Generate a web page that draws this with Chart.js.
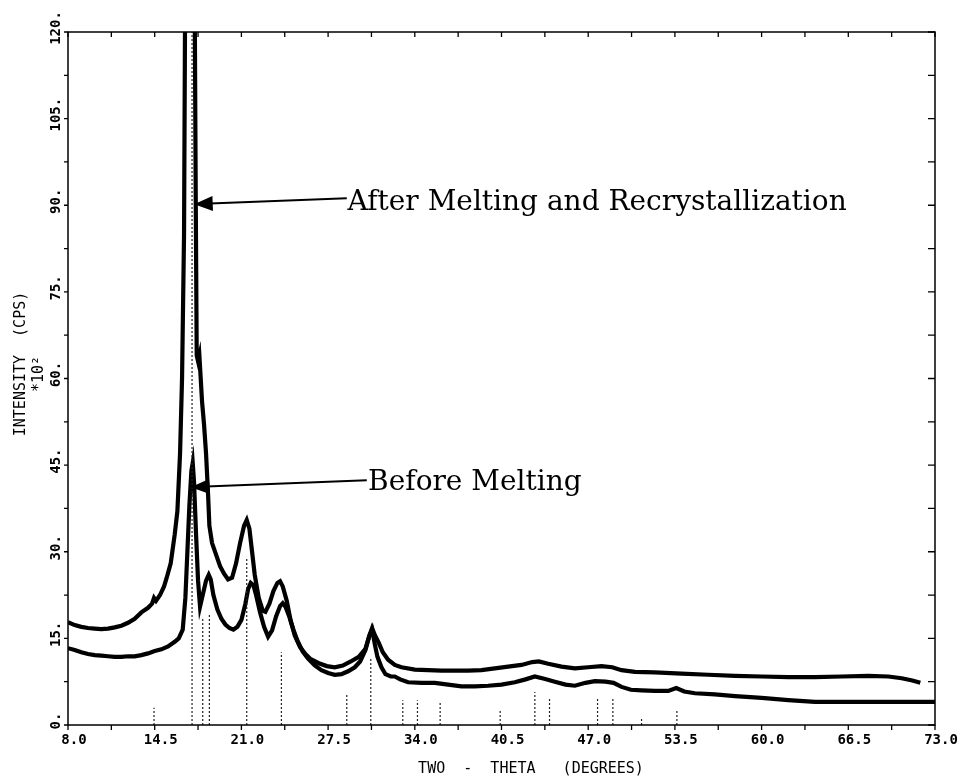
<!DOCTYPE html>
<html lang="en">
<head>
    <meta charset="UTF-8">
    <title>XRD Pattern</title>
    <script src="https://cdn.jsdelivr.net/npm/chart.js"></script>
    <style>
        body { margin: 0; background: #fff; }
        #xrdChart { display: block; }
    </style>
</head>
<body>
    <canvas id="xrdChart" width="959" height="780"></canvas>

    <script>
        // after melting and recrystallization (upper trace)
        const afterX = [8.0, 8.5, 9.0, 9.5, 10.0, 10.5, 11.0, 11.5, 12.0, 12.5, 13.0, 13.5, 14.0, 14.3, 14.45, 14.6, 14.9, 15.2, 15.4, 15.7, 16.0, 16.2, 16.4, 16.55, 16.7, 16.78,
            17.5, 17.58, 17.65, 17.75, 17.85, 17.95, 18.05, 18.2, 18.35, 18.5, 18.6, 18.8, 19.1, 19.4, 19.7, 20.0, 20.3, 20.6, 20.9, 21.2, 21.4, 21.6, 21.8, 22.0, 22.3, 22.6, 22.8,
            23.1, 23.4, 23.7, 23.9, 24.1, 24.4, 24.7, 25.0, 25.4, 25.8, 26.2, 26.8, 27.4, 28.0, 28.6, 29.2, 29.8, 30.3, 30.6, 30.8, 31.0, 31.3, 31.6, 32.0, 32.5, 33.0,
            34.0, 35.0, 36.0, 37.0, 38.0, 39.0, 40.0, 41.0, 42.0, 42.8, 43.3, 44.0, 45.0, 46.0, 47.0, 48.0, 48.8, 49.5, 50.5, 52.0, 54.0, 56.0, 58.0, 60.0, 62.0, 64.0,
            66.0, 68.0, 69.5, 70.5, 71.3, 71.9];
        const afterY = [17.8, 17.3, 17.0, 16.8, 16.7, 16.6, 16.7, 16.9, 17.2, 17.7, 18.4, 19.5, 20.3, 21.0, 22.0, 21.5, 22.5, 24.0, 25.5, 28.0, 33.0, 37.0, 47.0, 60.0, 85.0, 125.0,
            125.0, 90.0, 64.0, 63.0, 64.0, 60.0, 56.0, 52.0, 47.0, 40.0, 34.5, 31.5, 29.5, 27.5, 26.2, 25.2, 25.5, 28.0, 31.5, 34.5, 35.5, 34.0, 30.0, 26.0, 22.0, 19.8, 19.6,
            21.0, 23.2, 24.6, 24.9, 24.0, 21.5, 18.0, 15.5, 13.5, 12.3, 11.4, 10.7, 10.2, 10.0, 10.3, 11.0, 11.8, 13.2, 15.5, 16.8, 15.6, 14.2, 12.6, 11.3, 10.4, 10.0,
            9.6, 9.5, 9.4, 9.4, 9.4, 9.5, 9.8, 10.1, 10.4, 10.9, 11.0, 10.6, 10.1, 9.8, 10.0, 10.2, 10.0, 9.5, 9.2, 9.1, 8.9, 8.7, 8.5, 8.4, 8.3, 8.3,
            8.4, 8.5, 8.4, 8.1, 7.7, 7.3];

        // before melting (lower trace)
        const beforeX = [8.0, 8.5, 9.0, 9.5, 10.0, 10.5, 11.0, 11.5, 12.0, 12.5, 13.0, 13.5, 14.0, 14.5, 15.0, 15.5, 16.0, 16.3, 16.6, 16.8, 16.95, 17.1, 17.25, 17.35, 17.45,
            17.6, 17.75, 17.9, 18.1, 18.35, 18.55, 18.7, 18.9, 19.2, 19.5, 19.8, 20.1, 20.4, 20.7, 21.0, 21.3, 21.5, 21.7, 21.9, 22.1, 22.4, 22.7, 23.0, 23.3, 23.6, 23.9,
            24.1, 24.3, 24.6, 24.9, 25.2, 25.6, 26.0, 26.5, 27.0, 27.5, 28.0, 28.5, 29.0, 29.5, 29.9, 30.3, 30.6, 30.8, 31.0, 31.2, 31.5, 31.8, 32.2, 32.5, 32.9, 33.5,
            34.5, 35.5, 36.5, 37.5, 38.5, 39.5, 40.5, 41.5, 42.3, 43.0, 43.7, 44.5, 45.3, 46.0, 46.8, 47.5, 48.3, 48.9, 49.5, 50.2, 51.0, 52.0, 53.0, 53.6, 54.2, 55.0,
            56.5, 58.0, 60.0, 62.0, 64.0, 66.0, 68.0, 70.0, 72.0, 73.0];
        const beforeY = [13.3, 13.0, 12.6, 12.3, 12.1, 12.0, 11.9, 11.8, 11.8, 11.9, 11.9, 12.1, 12.4, 12.8, 13.1, 13.6, 14.4, 15.0, 16.5, 22.0, 30.0, 38.0, 44.0, 45.4, 42.0,
            33.0, 25.0, 20.5, 22.5, 25.0, 26.0, 25.2, 22.5, 20.0, 18.4, 17.4, 16.8, 16.5, 17.0, 18.2, 21.0, 23.5, 24.6, 24.2, 22.5, 19.5, 17.0, 15.3, 16.4, 18.8, 20.6,
            21.1, 20.5, 18.7, 16.5, 14.6, 12.7, 11.5, 10.3, 9.5, 9.0, 8.7, 8.8, 9.3, 10.0, 11.0, 13.0, 15.5, 16.5, 14.0, 11.8, 10.0, 8.8, 8.4, 8.4, 7.9, 7.4,
            7.3, 7.3, 7.0, 6.7, 6.7, 6.8, 7.0, 7.4, 7.9, 8.4, 8.0, 7.5, 7.0, 6.8, 7.3, 7.6, 7.5, 7.3, 6.6, 6.1, 6.0, 5.9, 5.9, 6.4, 5.8, 5.5,
            5.3, 5.0, 4.7, 4.3, 4.0, 4.0, 4.0, 4.0, 4.0, 4.0];

        // reference pattern lines (dotted sticks)
        const stickX = [14.45, 17.3, 18.1, 18.6, 21.4, 24.0, 28.9, 30.7, 33.1, 34.2, 35.9, 40.4, 43.0, 44.1, 47.7, 48.85, 51.0, 53.65];
        const stickH = [3.0, 125.0, 18.7, 19.4, 29.0, 12.6, 5.3, 11.5, 4.3, 4.3, 3.8, 2.6, 5.7, 4.7, 4.8, 4.8, 1.2, 2.6];

        const xTickValues = [8.0, 14.5, 21.0, 27.5, 34.0, 40.5, 47.0, 53.5, 60.0, 66.5, 73.0];
        const xTickLabels = ['8.0', '14.5', '21.0', '27.5', '34.0', '40.5', '47.0', '53.5', '60.0', '66.5', '73.0'];
        const yTickValues = [0, 15, 30, 45, 60, 75, 90, 105, 120];
        const yTickLabels = ['0.', '15.', '30.', '45.', '60.', '75.', '90.', '105.', '120.'];

        // annotation anchors, in data units
        const notes = [
            { text: 'After Melting and Recrystallization', tip: [17.65, 90.2], lineEnd: [28.9, 91.2], textAt: [28.95, 89.2] },
            { text: 'Before Melting', tip: [17.4, 41.2], lineEnd: [30.4, 42.4], textAt: [30.5, 40.7] }
        ];

        const monoFont = '"DejaVu Sans Mono", "Liberation Mono", monospace';

        const framePlugin = {
            id: 'frame',
            afterDatasetsDraw(chart) {
                const ctx = chart.ctx;
                const xs = chart.scales.x, ys = chart.scales.y;
                const a = chart.chartArea;
                ctx.save();
                ctx.strokeStyle = '#000';
                ctx.fillStyle = '#000';

                // border
                ctx.lineWidth = 1.5;
                ctx.strokeRect(a.left, a.top, a.right - a.left, a.bottom - a.top);

                // tick marks every 3.25 deg and 7.5 counts
                ctx.lineWidth = 1.3;
                ctx.beginPath();
                for (let v = 8; v <= 73.001; v += 3.25) {
                    const px = xs.getPixelForValue(v);
                    ctx.moveTo(px, a.bottom); ctx.lineTo(px, a.bottom + 5);
                    ctx.moveTo(px, a.top); ctx.lineTo(px, a.top + 5);
                }
                for (let v = 0; v <= 120.001; v += 7.5) {
                    const py = ys.getPixelForValue(v);
                    ctx.moveTo(a.left - 4, py); ctx.lineTo(a.left, py);
                    ctx.moveTo(a.right - 7, py); ctx.lineTo(a.right, py);
                }
                ctx.stroke();

                // x tick labels
                ctx.font = 'bold 14px ' + monoFont;
                ctx.textAlign = 'center';
                ctx.textBaseline = 'top';
                xTickValues.forEach((v, i) => {
                    ctx.fillText(xTickLabels[i], xs.getPixelForValue(v) + 6, a.bottom + 8);
                });

                // y tick labels, rotated
                ctx.textBaseline = 'alphabetic';
                yTickValues.forEach((v, i) => {
                    ctx.save();
                    ctx.translate(a.left - 8, ys.getPixelForValue(v) - 4);
                    ctx.rotate(-Math.PI / 2);
                    ctx.fillText(yTickLabels[i], 0, 0);
                    ctx.restore();
                });

                // axis titles
                ctx.font = '15px ' + monoFont;
                ctx.textAlign = 'center';
                ctx.fillText('TWO  -  THETA   (DEGREES)', 531, 773);

                ctx.save();
                ctx.translate(25, 364);
                ctx.rotate(-Math.PI / 2);
                ctx.fillText('INTENSITY  (CPS)', 0, 0);
                ctx.restore();

                ctx.save();
                ctx.translate(43, 374);
                ctx.rotate(-Math.PI / 2);
                ctx.fillText('*10\u00B2', 0, 0);
                ctx.restore();

                // annotations with arrows
                ctx.font = '28px "DejaVu Serif", serif';
                ctx.textAlign = 'left';
                notes.forEach(n => {
                    const tx = xs.getPixelForValue(n.tip[0]), ty = ys.getPixelForValue(n.tip[1]);
                    const ex = xs.getPixelForValue(n.lineEnd[0]), ey = ys.getPixelForValue(n.lineEnd[1]);
                    const ang = Math.atan2(ey - ty, ex - tx);
                    ctx.lineWidth = 2;
                    ctx.beginPath();
                    ctx.moveTo(tx, ty);
                    ctx.lineTo(ex, ey);
                    ctx.stroke();
                    // arrow head
                    const len = 15, half = 6;
                    const bx = tx + Math.cos(ang) * len, by = ty + Math.sin(ang) * len;
                    ctx.beginPath();
                    ctx.moveTo(tx, ty);
                    ctx.lineTo(bx - Math.sin(ang) * half, by + Math.cos(ang) * half);
                    ctx.lineTo(bx + Math.sin(ang) * half, by - Math.cos(ang) * half);
                    ctx.closePath();
                    ctx.fill();
                    ctx.stroke();
                    ctx.fillText(n.text, xs.getPixelForValue(n.textAt[0]), ys.getPixelForValue(n.textAt[1]));
                });
                ctx.restore();
            }
        };

        const toPoints = (xArr, yArr) => xArr.map((x, i) => ({ x: x, y: yArr[i] }));
        const stickPoints = stickX.flatMap((x, i) => [{ x: x, y: 0 }, { x: x, y: stickH[i] }, { x: x, y: null }]);

        const config = {
            type: 'line',
            data: {
                datasets: [
                    {
                        label: 'Reference lines',
                        data: stickPoints,
                        borderColor: '#222',
                        borderWidth: 1.2,
                        borderDash: [2, 2],
                        pointRadius: 0,
                        spanGaps: false
                    },
                    {
                        label: 'After Melting and Recrystallization',
                        data: toPoints(afterX, afterY),
                        borderColor: '#000',
                        borderWidth: 4.2,
                        pointRadius: 0,
                        tension: 0
                    },
                    {
                        label: 'Before Melting',
                        data: toPoints(beforeX, beforeY),
                        borderColor: '#000',
                        borderWidth: 4.2,
                        pointRadius: 0,
                        tension: 0
                    }
                ]
            },
            options: {
                responsive: false,
                animation: false,
                devicePixelRatio: 1,
                layout: { padding: { left: 68, top: 32, right: 24, bottom: 55 } },
                plugins: {
                    legend: { display: false },
                    tooltip: { enabled: false }
                },
                scales: {
                    x: { type: 'linear', min: 8, max: 73, display: false },
                    y: { type: 'linear', min: 0, max: 120, display: false }
                }
            },
            plugins: [framePlugin]
        };

        const ctx = document.getElementById('xrdChart').getContext('2d');
        const xrdChart = new Chart(ctx, config);
    </script>
</body>
</html>
